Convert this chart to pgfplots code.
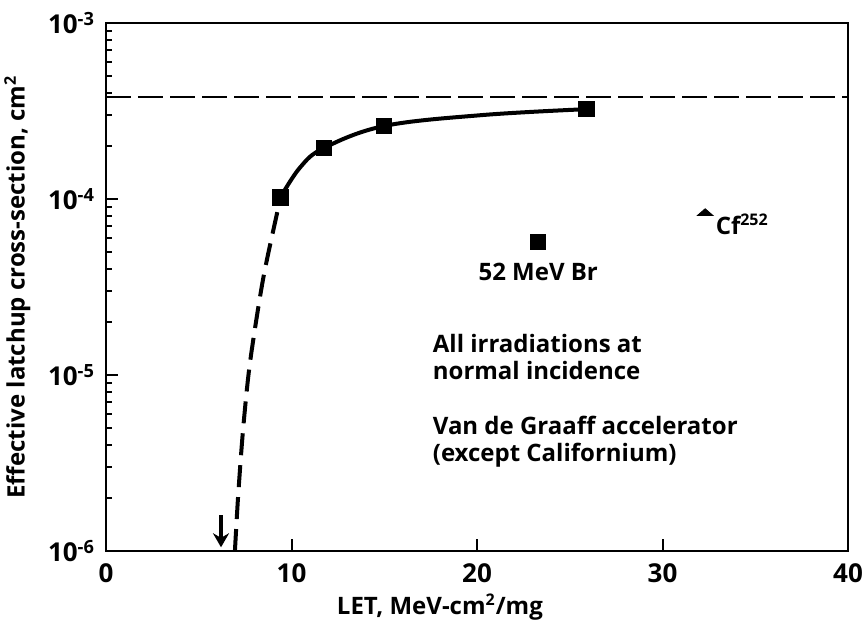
\documentclass[border=0pt]{standalone}
\usepackage{pgfplots}
\pgfplotsset{compat=1.18}
\usepackage{fontspec}
\setmainfont{Open Sans}
\usetikzlibrary{arrows.meta}

% Measured latchup cross-sections (LET in MeV-cm^2/mg, sigma in cm^2)
\pgfplotstableread{
let  sigma
9.4  1.02e-4
11.75 1.95e-4
15.0 2.60e-4
25.9 3.24e-4
}\measured

\pgfplotstableread{
let  sigma
23.3 5.7e-5
}\bromine

\pgfplotstableread{
let  sigma
32.3 8.3e-5
}\californium

\begin{document}
\begin{tikzpicture}[font=\bfseries\fontsize{12}{13.5}\selectfont]
\path[use as bounding box] (-53pt,-36.5pt) rectangle (379.5pt,275.5pt);
\begin{axis}[
  scale only axis,
  width=371pt, height=264pt,
  xmin=0, xmax=40,
  ymode=log, ymin=1e-6, ymax=1e-3,
  axis line style={line width=1pt},
  xtick={0,7,10,20,30,40},
  xticklabels={0,,10,20,30,40},
  ytick={1e-6,1e-5,1e-4,1e-3},
  yticklabels={10\textsuperscript{-6},10\textsuperscript{-5},10\textsuperscript{-4},10\textsuperscript{-3}},
  minor ytick={}, minor xtick={},
  tick align=inside,
  major tick length=6pt,
  tick style={line width=1pt, black},
  xtick pos=bottom, ytick pos=left,
  tick label style={font=\bfseries\fontsize{13}{14}\selectfont},
  xticklabel style={yshift=-3pt},
  yticklabel style={xshift=-2pt},
  xlabel={LET, MeV-cm\textsuperscript{2}/mg},
  ylabel={Effective latchup cross-section, cm\textsuperscript{2}},
  xlabel style={at={(axis description cs:0.45,0)}, anchor=north, yshift=-18pt},
  ylabel style={yshift=2pt},
  clip=false,
]
% saturation level
\addplot[black, line width=1.2pt, dash pattern=on 12.5pt off 3.5pt]
  coordinates {(0,3.8e-4) (40,3.8e-4)};
% extrapolation towards threshold
\addplot[black, line width=2pt, dash pattern=on 11pt off 5pt, smooth]
  coordinates {(6.95,1e-6) (7.12,2.03e-6) (7.39,4.9e-6) (7.76,1.17e-5)
               (8.46,3.47e-5) (9.22,8.3e-5) (9.4,1.02e-4)};
% fitted curve through measurements
\addplot[black, line width=2pt, smooth, tension=0.6]
  coordinates {(9.4,1.02e-4) (10.46,1.51e-4) (11.75,1.95e-4) (15.0,2.60e-4)
               (20.3,3.0e-4) (25.9,3.24e-4)};
\addplot[only marks, mark=square*, mark size=3.8pt, black] table[x=let,y=sigma] {\measured};
\addplot[only marks, mark=square*, mark size=3.8pt, black] table[x=let,y=sigma] {\bromine};
\addplot[only marks, mark=triangle*, mark size=4.5pt, black,
  mark options={yscale=0.5}] table[x=let,y=sigma] {\californium};
% threshold arrow
\draw[black, line width=2pt, -{Stealth[length=7pt,width=8pt]}]
  (axis cs:6.2,1.6e-6) -- (axis cs:6.2,1.05e-6);
\node[anchor=north] at (axis cs:23.3,4.75e-5) {52 MeV Br};
\node[anchor=base west, inner sep=0pt] at (axis cs:32.85,6.3e-5) {Cf\textsuperscript{252}};
\node[anchor=north west, align=left, inner sep=0pt] at (axis cs:17.6,1.72e-5)
  {All irradiations at\\normal incidence};
\node[anchor=north west, align=left, inner sep=0pt] at (axis cs:17.6,5.9e-6)
  {Van de Graaff accelerator\\(except Californium)};
\end{axis}
\end{tikzpicture}
\end{document}
